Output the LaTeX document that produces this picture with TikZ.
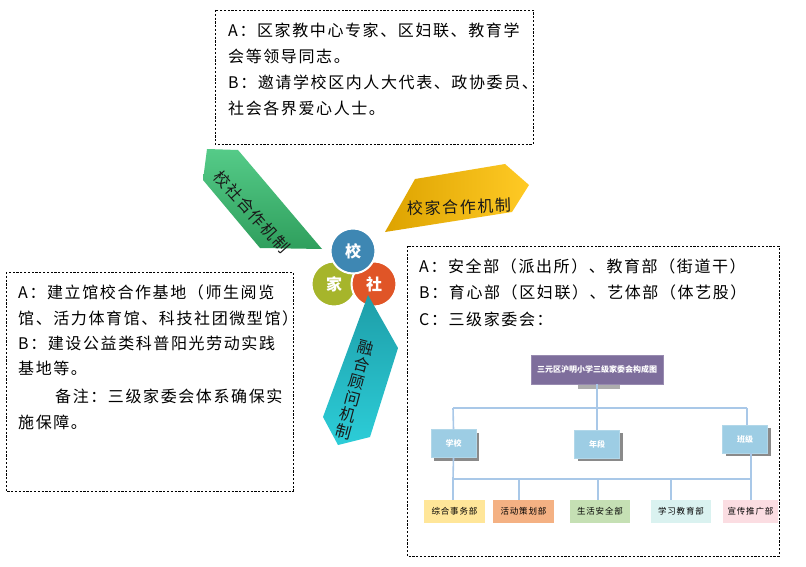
\documentclass[tikz,border=0pt]{standalone}
\usepackage{fontspec}
\setmainfont{Noto Sans CJK SC}
\newfontfamily\cjk[LetterSpace=10]{Noto Sans CJK SC}
\usetikzlibrary{shadows}
\definecolor{xiaoc}{HTML}{3E87B3}
\definecolor{jiac}{HTML}{A6B52B}
\definecolor{shec}{HTML}{E05527}
\definecolor{linec}{HTML}{A9C8E8}
\definecolor{titlec}{HTML}{7E6E9C}
\definecolor{lvlc}{HTML}{9DCDE4}
\definecolor{shadc}{HTML}{8A8A8A}
\definecolor{c1}{HTML}{FFE699}
\definecolor{c2}{HTML}{F4B183}
\definecolor{c3}{HTML}{C5E0B4}
\definecolor{c4}{HTML}{DAF2F0}
\definecolor{c5}{HTML}{FBDDE2}
\definecolor{gtop}{HTML}{55CB88}
\definecolor{gbot}{HTML}{2F9F5D}
\definecolor{yleft}{HTML}{DDA300}
\definecolor{yright}{HTML}{FFCA25}
\definecolor{ttop}{HTML}{1E9EA8}
\definecolor{tbot}{HTML}{2CCDD8}
\tikzset{
  dbox/.style={draw=black, dash pattern=on 2.2pt off 1.6pt, line width=0.7pt},
  txt/.style={anchor=west, inner sep=0pt, font=\cjk\fontsize{16}{18}\selectfont},
  arrtxt/.style={inner sep=0pt, text=black!90, font=\cjk\fontsize{16}{18}\selectfont},
  ring/.style={circle, draw=white, line width=2pt, minimum size=45pt, inner sep=0pt, text=white, font=\bfseries\fontsize{16}{18}\selectfont},
  conn/.style={draw=linec, line width=1.6pt},
  lvl/.style={fill=lvlc, draw=lvlc!80!white, text=white, minimum width=45pt, minimum height=28pt, inner sep=0pt,
    font=\bfseries\fontsize{8}{9}\selectfont,
    drop shadow={shadow xshift=3pt, shadow yshift=-3pt, fill=shadc, opacity=1}},
  dept/.style={minimum height=23pt, inner sep=0pt, text=black, font=\cjk\fontsize{8.5}{9}\selectfont},
}
\begin{document}
\begin{tikzpicture}[x=1pt,y=-1pt]
\useasboundingbox[fill=white] (0,0) rectangle (806,567);

% dashed boxes
\draw[dbox] (215,10) rectangle (533,144);
\draw[dbox] (6,272) rectangle (293,491);
\draw[dbox] (407,246) rectangle (779,556);

% top box text
\node[txt] (t1) at (228,30) {A：区家教中心专家、区妇联、教育学};
\node[txt] (t2) at (228,56) {会等领导同志。};
\node[txt] (t3) at (228,82) {B：邀请学校区内人大代表、政协委员、};
\node[txt] (t4) at (228,108) {社会各界爱心人士。};

% left box text
\node[txt] (l1) at (18,292) {A：建立馆校合作基地（师生阅览};
\node[txt] (l2) at (18,318) {馆、活力体育馆、科技社团微型馆）};
\node[txt] (l3) at (18,343) {B：建设公益类科普阳光劳动实践};
\node[txt] (l4) at (18,368) {基地等。};
\node[txt] (l5) at (55,396) {备注：三级家委会体系确保实};
\node[txt] (l6) at (18,422) {施保障。};

% right box text
\node[txt] (r1) at (419,266) {A：安全部（派出所）、教育部（街道干）};
\node[txt] (r2) at (419,292) {B：育心部（区妇联）、艺体部（体艺股）};
\node[txt] (r3) at (419,319) {C：三级家委会：};

% arrow shapes
\shade[top color=gtop, bottom color=gbot, draw=none]
  (207,149) -- (238,150) -- (322,249) -- (260,248) -- (203,180) -- cycle;
\shade[left color=yleft, right color=yright, draw=none]
  (385,232) -- (415,179) -- (505,164) -- (529,185) -- (512,212) -- cycle;

% circles
\node[ring, fill=jiac] (jia) at (334,284) {家};
\node[ring, fill=shec] (she) at (374,284) {社};
\node[ring, fill=xiaoc] (xiao) at (353,251) {校};

% teal arrow over she circle
\shade[top color=ttop, bottom color=tbot, draw=none]
  (368,295) -- (398,348) -- (370,437) -- (338,445) -- (323,417) -- cycle;

% arrow texts
\node[arrtxt, rotate=-48] (ga) at (252,212) {校社合作机制};
\node[arrtxt, rotate=2] (ya) at (459,207) {校家合作机制};
\node[arrtxt, rotate=-15, align=center, font=\cjk\fontsize{16}{17.3}\selectfont] (ta) at (355,390)
  {融\\合\\顾\\问\\机\\制};

% org chart
\fill[shadc!70!white] (578,383) rectangle (620,389);
\node[fill=titlec, draw=titlec!80!white, minimum width=132pt, minimum height=29pt, inner sep=0pt,
  text=white, font=\bfseries\fontsize{8}{9}\selectfont] (title) at (597,369.5) {三元区沪明小学三级家委会构成图};

\node[lvl] (xx) at (453.5,443.5) {学校};
\node[lvl] (nd) at (597,444) {年段};
\node[lvl] (bj) at (745,439) {班级};

\coordinate (hl) at (453,408);
\coordinate (hr) at (747,408);
\draw[conn] (title.south) -- (nd.north);
\draw[conn] (hl) -- (hr);
\draw[conn] (hl) -- (xx.north);
\draw[conn] (hr) -- (hr |- bj.north);

\node[dept, fill=c1, minimum width=61pt] (d1) at (454.5,511.5) {综合事务部};
\node[dept, fill=c2, minimum width=61pt] (d2) at (523.5,511.5) {活动策划部};
\node[dept, fill=c3, minimum width=60pt] (d3) at (600,511.5) {生活安全部};
\node[dept, fill=c4, minimum width=60pt] (d4) at (681,511.5) {学习教育部};
\node[dept, fill=c5, minimum width=55pt] (d5) at (750.5,511.5) {宣传推广部};

\coordinate (bl) at (453,479);
\coordinate (br) at (751,479);
\coordinate (b2) at (519,479);
\coordinate (b3) at (598,479);
\coordinate (b4) at (671,479);
\draw[conn] (xx.south) -- (bl);
\draw[conn] (br |- bj.south) -- (br);
\draw[conn] (bl) -- (br);
\draw[conn] (bl) -- (bl |- d1.north);
\draw[conn] (b2) -- (b2 |- d2.north);
\draw[conn] (b3) -- (b3 |- d3.north);
\draw[conn] (b4) -- (b4 |- d4.north);
\draw[conn] (br) -- (br |- d5.north);
\end{tikzpicture}
\end{document}
